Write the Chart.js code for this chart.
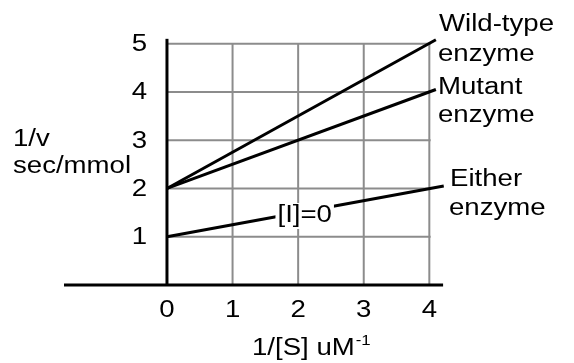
<!DOCTYPE html>
<html>
<head>
<meta charset="utf-8">
<script src="https://cdn.jsdelivr.net/npm/chart.js@4.4.1/dist/chart.umd.min.js"></script>
<style>
  html, body { margin: 0; padding: 0; background: #fff; }
  #wrap { width: 574px; height: 363px; }
</style>
</head>
<body>
<div id="wrap"><canvas id="lb" width="574" height="363"></canvas></div>
<script>
// values
var xTicks = [0, 1, 2, 3, 4];
var yTicks = [1, 2, 3, 4, 5];
var wildX = [0, 4.1],  wildY = [2, 5.08];
var mutX = [0, 4.1],   mutY = [2, 4.05];
var eitherX = [0, 4.22], eitherY = [1, 2.05];
var seriesNames = [['Wild-type', 'enzyme'], ['Mutant', 'enzyme'], ['Either', 'enzyme']];
var xTitle = '1/[S] uM', xTitleSup = '-1';
var yTitle = ['1/v', 'sec/mmol'];
var noteText = '[I]=0';

function pts(xs, ys) {
    return xs.map(function (x, i) { return { x: x, y: ys[i] }; });
}

var FONT = '23px "Liberation Sans", Arial, sans-serif';
var STRETCH = 1.2;

function txt(ctx, s, x, y, align, font) {
    ctx.save();
    ctx.font = font || FONT;
    ctx.translate(x, y);
    ctx.scale(STRETCH, 1);
    ctx.textAlign = align || 'left';
    ctx.fillText(s, 0, 0);
    ctx.restore();
}

var drawBits = {
    id: 'drawBits',
    beforeDatasetsDraw: function (chart) {
        var ctx = chart.ctx, xs = chart.scales.x, ys = chart.scales.y;
        ctx.save();
        // grid
        ctx.strokeStyle = '#8c8c8c';
        ctx.lineWidth = 2;
        xTicks.slice(1).forEach(function (v) {
            ctx.beginPath();
            ctx.moveTo(xs.getPixelForValue(v), ys.getPixelForValue(0));
            ctx.lineTo(xs.getPixelForValue(v), ys.getPixelForValue(5));
            ctx.stroke();
        });
        yTicks.forEach(function (v) {
            ctx.beginPath();
            ctx.moveTo(xs.getPixelForValue(0), ys.getPixelForValue(v));
            ctx.lineTo(xs.getPixelForValue(4.02), ys.getPixelForValue(v));
            ctx.stroke();
        });
        // axes
        ctx.strokeStyle = '#000';
        ctx.lineWidth = 3;
        ctx.beginPath();
        ctx.moveTo(xs.getPixelForValue(-1.57), ys.getPixelForValue(0));
        ctx.lineTo(xs.getPixelForValue(4.21), ys.getPixelForValue(0));
        ctx.stroke();
        ctx.beginPath();
        ctx.moveTo(xs.getPixelForValue(0), ys.getPixelForValue(0));
        ctx.lineTo(xs.getPixelForValue(0), ys.getPixelForValue(5.1));
        ctx.stroke();
        ctx.restore();
    },
    afterDatasetsDraw: function (chart) {
        var ctx = chart.ctx, xs = chart.scales.x, ys = chart.scales.y;
        ctx.save();
        ctx.fillStyle = '#000';
        ctx.textBaseline = 'middle';
        yTicks.forEach(function (v) {
            txt(ctx, String(v), 147, ys.getPixelForValue(v) + 1, 'right');
        });
        xTicks.forEach(function (v) {
            txt(ctx, String(v), xs.getPixelForValue(v), 311, 'center');
        });
        ctx.textBaseline = 'alphabetic';
        // y title
        txt(ctx, yTitle[0], 13, 146);
        txt(ctx, yTitle[1], 13, 173);
        // x title with superscript
        ctx.font = FONT;
        var w = ctx.measureText(xTitle).width * STRETCH;
        txt(ctx, xTitle, 252, 355);
        txt(ctx, xTitleSup, 252 + w + 1, 345, 'left', '14px "Liberation Sans", Arial, sans-serif');
        // series labels
        txt(ctx, seriesNames[0][0], 439, 31);
        txt(ctx, seriesNames[0][1], 438, 61);
        txt(ctx, seriesNames[1][0], 438, 94);
        txt(ctx, seriesNames[1][1], 438, 122);
        txt(ctx, seriesNames[2][0], 450, 186);
        txt(ctx, seriesNames[2][1], 449, 215);
        // [I]=0 note on the lower line
        var nx = xs.getPixelForValue(2.1), ny = 216;
        ctx.font = FONT;
        var nw = ctx.measureText(noteText).width * STRETCH;
        ctx.fillStyle = '#fff';
        ctx.fillRect(nx - nw / 2 - 2, ny - 13, nw + 4, 26);
        ctx.fillStyle = '#000';
        ctx.textBaseline = 'middle';
        txt(ctx, noteText, nx, ny, 'center');
        ctx.restore();
    }
};

function ds(data) {
    return {
        data: data,
        showLine: true,
        borderColor: '#000',
        borderWidth: 3,
        pointRadius: 0,
        fill: false,
        tension: 0
    };
}

new Chart(document.getElementById('lb'), {
    type: 'scatter',
    data: {
        datasets: [
            ds(pts(wildX, wildY)),
            ds(pts(mutX, mutY)),
            ds(pts(eitherX, eitherY))
        ]
    },
    options: {
        responsive: false,
        animation: false,
        clip: false,
        layout: { padding: { left: 64, right: 125, top: 34, bottom: 78 } },
        plugins: { legend: { display: false }, tooltip: { enabled: false } },
        scales: {
            x: { type: 'linear', min: -1.57, max: 4.3, display: false },
            y: { type: 'linear', min: 0, max: 5.2, display: false }
        }
    },
    plugins: [drawBits]
});
</script>
</body>
</html>
